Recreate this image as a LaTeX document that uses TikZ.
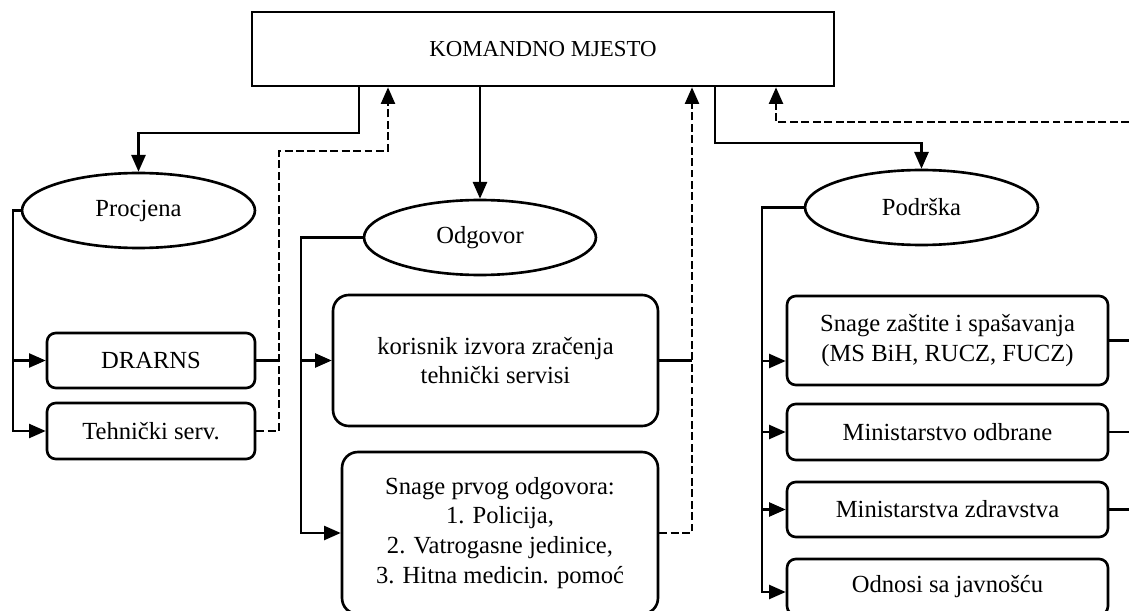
\documentclass[tikz,border=0pt]{standalone}
\usepackage{fontspec}
\setmainfont{Liberation Serif}
\usetikzlibrary{shapes.geometric, arrows.meta, positioning, calc}
\newcommand{\boxfont}{\fontsize{14}{17}\selectfont}
\tikzset{
  command/.style={
    rectangle, draw, line width=1.5pt,
    minimum width=11.64cm, minimum height=1.48cm,
    text centered, font=\fontsize{13}{16}\selectfont
  },
  branch/.style={
    ellipse, draw, line width=1.5pt, inner sep=0pt,
    minimum width=4.66cm, minimum height=1.5cm,
    text centered, font=\boxfont
  },
  unit/.style={
    rectangle, rounded corners=5pt, draw, line width=1.5pt,
    minimum width=6.42cm, minimum height=1.12cm,
    align=center, font=\boxfont
  },
  arrow/.style={line width=1.3pt, -{Triangle[length=9.5pt,width=8pt]}},
  link/.style={line width=1.3pt},
  feedback/.style={line width=1.3pt, dash pattern=on 4.5pt off 2pt,
    -{Triangle[length=9.5pt,width=8pt]}},
}

\begin{document}
\begin{tikzpicture}[x=0.02cm, y=-0.02cm]
  \useasboundingbox (0,0) rectangle (1129,611);

  % nodes
  \node (km)       [command]                          at (543,49)    {KOMANDNO MJESTO};
  \node (procjena) [branch]                           at (138.5,210.5) {Procjena};
  \node (odgovor)  [branch, minimum width=4.64cm]     at (480,237.5) {Odgovor};
  \node (podrska)  [branch]                           at (921.5,207.5) {Podrška};

  \node (drarns)   [unit, minimum width=4.16cm, minimum height=1.1cm]  at (151,360.5) {DRARNS};
  \node (tehs)     [unit, minimum width=4.16cm]                        at (151,431)   {Tehnički serv.};
  \node (korisnik) [unit, rounded corners=9pt, minimum width=6.5cm, minimum height=2.62cm]
                   at (495.5,360.5) {korisnik izvora zračenja\\tehnički servisi};
  \node (prvi)     [unit, rounded corners=9pt, minimum width=6.32cm, minimum height=3.24cm]
                   at (500,533) {Snage prvog odgovora:\\1. Policija,\\2. Vatrogasne jedinice,\\3. Hitna medicin. pomoć};
  \node (snage)    [unit, minimum height=1.78cm] at (947.5,340.5) {Snage zaštite i spašavanja\\(MS BiH, RUCZ, FUCZ)};
  \node (odbrane)  [unit]                        at (947.5,432)   {Ministarstvo odbrane};
  \node (zdrav)    [unit, minimum height=1.1cm]  at (947.5,509.5) {Ministarstva zdravstva};
  \node (odnosi)   [unit]                        at (947.5,587)   {Odnosi sa javnošću};

  % bend points
  \coordinate (kL)  at (359,133);
  \coordinate (kR)  at (715,143);
  \coordinate (dL)  at (279,151);
  \coordinate (dLt) at (388,151);
  \coordinate (dM)  at (692,0);
  \coordinate (dR)  at (776,122);
  \coordinate (eR)  at (1129,122);
  \coordinate (eX)  at (1129,0);
  \coordinate (pL)  at (13,431);
  \coordinate (oL)  at (301,533);
  \coordinate (rL)  at (762,592);
  \coordinate (sIn) at ([yshift=-0.41cm]snage.west);

  % command to branches
  \draw [arrow] (km.south -| kL) -- (kL) -| (procjena.north);
  \draw [arrow] (km.south -| odgovor.north) -- (odgovor.north);
  \draw [arrow] (km.south -| kR) -- (kR) -| (podrska.north);

  % Procjena
  \draw [arrow] (procjena.west) -| (pL) -- (tehs.west);
  \draw [arrow] (drarns.west -| pL) -- (drarns.west);
  \draw [link]  (drarns.east) -- (drarns.east -| dL);
  \draw [feedback] (tehs.east) -| (dL) -- (dLt) -- (km.south -| dLt);

  % Odgovor
  \draw [arrow] (odgovor.west) -| (oL) -- (prvi.west);
  \draw [arrow] (korisnik.west -| oL) -- (korisnik.west);
  \draw [link]  (korisnik.east) -- (korisnik.east -| dM);
  \draw [feedback] (prvi.east) -| (km.south -| dM);

  % Podrska
  \draw [arrow] (podrska.west) -| (rL) -- (odnosi.west |- rL);
  \draw [arrow] (sIn -| rL) -- (sIn);
  \draw [arrow] (odbrane.west -| rL) -- (odbrane.west);
  \draw [arrow] (zdrav.west -| rL) -- (zdrav.west);
  \draw [link]  (snage.east) -- (snage.east -| eX);
  \draw [link]  (odbrane.east) -- (odbrane.east -| eX);
  \draw [link]  (zdrav.east) -- (zdrav.east -| eX);
  \draw [feedback] (eR) -- (dR) -- (km.south -| dR);
\end{tikzpicture}
\end{document}
